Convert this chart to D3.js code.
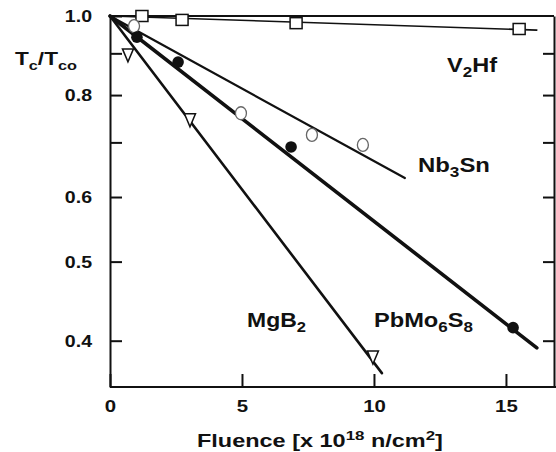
<!DOCTYPE html>
<html><head><meta charset="utf-8">
<script src="https://cdn.jsdelivr.net/npm/d3@7"></script>
<style>body{margin:0;background:#fff}svg{display:block}text{font-family:"Liberation Sans",Arial,sans-serif;font-weight:bold;fill:#111}</style>
</head><body>
<svg id="c" width="556" height="452"></svg>
<script>
// ---- data ----
const xTicks = [0, 5, 10, 15];
const yTicks = [0.4, 0.5, 0.6, 0.7, 0.8, 0.9, 1.0];
const yLabeled = [0.4, 0.5, 0.6, 0.8, 1.0];

const v2hfX = [1.21, 2.73, 7.05, 15.5];
const v2hfY = [1.0, 0.989, 0.980, 0.964];
const v2hfFitX = [0, 16.17];
const v2hfFitY = [1.0, 0.961];

const nb3snX = [0.91, 4.96, 7.65, 9.58];
const nb3snY = [0.972, 0.760, 0.715, 0.695];
const nb3snFitX = [0, 11.17];
const nb3snFitY = [1.0, 0.633];

const pbmoX = [1.02, 2.58, 6.86, 15.27];
const pbmoY = [0.942, 0.878, 0.691, 0.415];
const pbmoFitX = [0, 16.17];
const pbmoFitY = [1.0, 0.392];

const mgb2X = [0.68, 3.03, 9.96];
const mgb2Y = [0.896, 0.746, 0.382];
const mgb2FitX = [0, 10.3];
const mgb2FitY = [1.0, 0.365];

// ---- chart ----
const svg = d3.select("#c");
const x = d3.scaleLinear().domain([0, 16.82]).range([110, 554]);
const y = d3.scaleLog().domain([0.351, 1.0]).range([387, 16]);
const ink = "#111";

function styleAxis(g){
  g.selectAll("path.domain").attr("stroke", ink).attr("stroke-width", 2);
  g.selectAll(".tick line").attr("stroke", ink).attr("stroke-width", 2);
  g.selectAll(".tick text").attr("font-size", 17).attr("font-family", "Liberation Sans, Arial, sans-serif").attr("font-weight", "bold").attr("fill", ink);
}

// left axis
const gl = svg.append("g").attr("transform", "translate(110,0)")
  .call(d3.axisLeft(y).tickValues(yTicks).tickSizeInner(-12).tickSizeOuter(0).tickPadding(18)
    .tickFormat(d => yLabeled.some(v => Math.abs(v - d) < 1e-9) ? d3.format(".1f")(d) : ""));
styleAxis(gl);
gl.selectAll(".tick text").each(function(){
  const t = d3.select(this); const xx = +t.attr("x");
  t.attr("x", 0).attr("transform", `translate(${xx},0) scale(1.15,1)`);
});

// right axis
const gr = svg.append("g").attr("transform", "translate(554,0)")
  .call(d3.axisRight(y).tickValues(yTicks.filter(d => d < 1)).tickSizeInner(-11).tickSizeOuter(0).tickFormat(""));
styleAxis(gr);

// bottom axis
const gb = svg.append("g").attr("transform", "translate(0,387)")
  .call(d3.axisBottom(x).tickValues(xTicks).tickSizeInner(-13).tickSizeOuter(0).tickPadding(13).tickFormat(d3.format("d")));
styleAxis(gb);
gb.selectAll(".tick text").each(function(){
  const t = d3.select(this); const yy = +t.attr("y");
  t.attr("y", 0).attr("transform", `translate(0,${yy}) scale(1.2,1)`);
});
gb.select("path.domain").attr("d", `M${x(0)},0H556`);

// top frame line
svg.append("line").attr("x1", x(0)).attr("x2", x.range()[1]).attr("y1", y(1)).attr("y2", y(1))
  .attr("stroke", ink).attr("stroke-width", 2);

// fit lines
const line = d3.line().x(d => x(d[0])).y(d => y(d[1]));
function fit(xs, ys, w){
  svg.append("path").datum(xs.map((v, i) => [v, ys[i]])).attr("d", line)
    .attr("fill", "none").attr("stroke", ink).attr("stroke-width", w).attr("stroke-linecap", "round");
}
fit(v2hfFitX, v2hfFitY, 1.6);
fit(nb3snFitX, nb3snFitY, 2.2);
fit(pbmoFitX, pbmoFitY, 3.6);
fit(mgb2FitX, mgb2FitY, 2.6);

// markers
svg.append("g").selectAll("rect").data(v2hfX.map((v, i) => [v, v2hfY[i]])).join("rect")
  .attr("x", d => x(d[0]) - 6).attr("y", d => y(d[1]) - 5.5).attr("width", 12).attr("height", 11)
  .attr("fill", "#fff").attr("stroke", ink).attr("stroke-width", 1.5);

svg.append("g").selectAll("ellipse").data(nb3snX.map((v, i) => [v, nb3snY[i]])).join("ellipse")
  .attr("cx", d => x(d[0])).attr("cy", d => y(d[1])).attr("rx", 5.5).attr("ry", 6.5)
  .attr("fill", "#fff").attr("stroke", "#666").attr("stroke-width", 1.3);

svg.append("g").selectAll("circle").data(pbmoX.map((v, i) => [v, pbmoY[i]])).join("circle")
  .attr("cx", d => x(d[0])).attr("cy", d => y(d[1])).attr("r", 5.8).attr("fill", ink);

svg.append("g").selectAll("path").data(mgb2X.map((v, i) => [v, mgb2Y[i]])).join("path")
  .attr("d", d => { const cx = x(d[0]), cy = y(d[1]); return `M${cx-5.5},${cy-6}L${cx+5.5},${cy-6}L${cx},${cy+7}Z`; })
  .attr("fill", "#fff").attr("stroke", ink).attr("stroke-width", 1.5);

// text helper: parts = [[text, kind]], kind: n normal, sub, sup
function label(px, py, fs, parts, targetW, anchor){
  const g = svg.append("g");
  const t = g.append("text").attr("font-size", fs).attr("x", 0).attr("y", 0);
  parts.forEach(([s, k]) => {
    const sp = t.append("tspan").text(s);
    if (k === "sub") sp.attr("font-size", fs * 0.72).attr("dy", fs * 0.28);
    else if (k === "sup") sp.attr("font-size", fs * 0.72).attr("dy", -fs * 0.38);
    else if (k === "back") sp.attr("dy", -fs * 0.28);
    else if (k === "down") sp.attr("dy", fs * 0.38);
  });
  const w = t.node().getComputedTextLength();
  const sx = targetW / w;
  const ox = anchor === "middle" ? -targetW / 2 : 0;
  g.attr("transform", `translate(${px + ox},${py}) scale(${sx},1)`);
}

label(15, 65, 18, [["T","n"],["c","sub"],["/T","back"],["co","sub"]], 62);
label(197, 447, 19, [["Fluence [x 10","n"],["18","sup"],[" n/cm","down"],["2","sup"],["]","down"]], 246);
label(447, 72, 19.5, [["V","n"],["2","sub"],["Hf","back"]], 50);
label(418, 172, 19.5, [["Nb","n"],["3","sub"],["Sn","back"]], 72);
label(247, 327, 19.5, [["MgB","n"],["2","sub"]], 59);
label(374, 327, 19.5, [["PbMo","n"],["6","sub"],["S","back"],["8","sub"]], 99);
</script>
</body></html>
